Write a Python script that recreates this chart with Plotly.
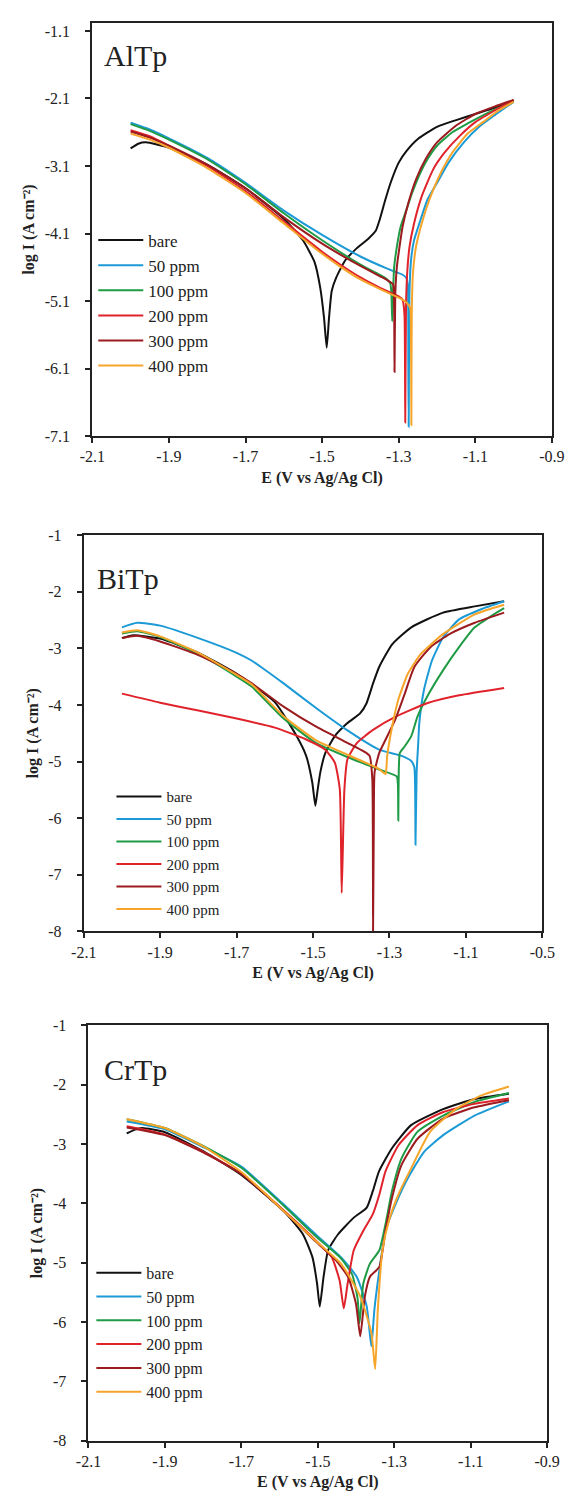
import plotly.graph_objects as go

# ---------------- data: AlTp ----------------
al_bare_E = [-2.0, -1.98, -1.96, -1.9, -1.8, -1.7, -1.6, -1.55, -1.52, -1.505, -1.495, -1.488, -1.482, -1.475, -1.463, -1.44, -1.41, -1.38, -1.36, -1.35, -1.335, -1.32, -1.30, -1.28, -1.25, -1.2, -1.15, -1.1, -1.05, -1.0]
al_bare_I = [-2.84, -2.77, -2.75, -2.83, -3.08, -3.43, -3.88, -4.2, -4.52, -4.9, -5.35, -5.79, -5.35, -4.95, -4.75, -4.5, -4.32, -4.18, -4.06, -3.9, -3.6, -3.33, -3.05, -2.88, -2.70, -2.52, -2.42, -2.33, -2.24, -2.13]
al_50_E = [-2.0, -1.95, -1.9, -1.8, -1.7, -1.6, -1.5, -1.4, -1.33, -1.29, -1.28, -1.276, -1.275, -1.274, -1.272, -1.268, -1.26, -1.245, -1.225, -1.2, -1.17, -1.13, -1.09, -1.05, -1.0]
al_50_I = [-2.46, -2.56, -2.69, -2.98, -3.35, -3.76, -4.12, -4.44, -4.62, -4.71, -4.76, -4.9, -6.0, -6.96, -5.0, -4.5, -4.2, -3.93, -3.6, -3.35, -3.05, -2.75, -2.52, -2.35, -2.15]
al_100_E = [-2.0, -1.95, -1.9, -1.8, -1.7, -1.6, -1.5, -1.4, -1.35, -1.33, -1.322, -1.319, -1.317, -1.315, -1.312, -1.305, -1.295, -1.28, -1.265, -1.245, -1.225, -1.2, -1.16, -1.12, -1.08, -1.04, -1.0]
al_100_I = [-2.48, -2.58, -2.71, -3.0, -3.37, -3.80, -4.2, -4.56, -4.71, -4.78, -4.84, -5.0, -5.40, -5.0, -4.6, -4.3, -4.0, -3.75, -3.5, -3.22, -3.0, -2.8, -2.6, -2.47, -2.35, -2.24, -2.14]
al_200_E = [-2.0, -1.95, -1.9, -1.8, -1.7, -1.6, -1.5, -1.45, -1.4, -1.35, -1.3, -1.29, -1.285, -1.283, -1.281, -1.278, -1.272, -1.26, -1.24, -1.21, -1.18, -1.14, -1.1, -1.05, -1.0]
al_200_I = [-2.57, -2.66, -2.80, -3.10, -3.47, -3.92, -4.37, -4.57, -4.75, -4.90, -5.03, -5.08, -5.3, -6.9, -5.2, -4.7, -4.3, -3.95, -3.55, -3.15, -2.9, -2.65, -2.45, -2.28, -2.12]
al_300_E = [-2.0, -1.95, -1.9, -1.8, -1.7, -1.6, -1.5, -1.45, -1.4, -1.35, -1.33, -1.315, -1.312, -1.311, -1.309, -1.305, -1.298, -1.29, -1.275, -1.255, -1.23, -1.2, -1.15, -1.1, -1.05, -1.0]
al_300_I = [-2.59, -2.68, -2.80, -3.08, -3.43, -3.86, -4.25, -4.42, -4.58, -4.73, -4.79, -4.85, -5.2, -6.15, -5.0, -4.6, -4.3, -4.0, -3.65, -3.3, -3.0, -2.75, -2.5, -2.33, -2.22, -2.12]
al_400_E = [-2.0, -1.95, -1.9, -1.8, -1.7, -1.6, -1.5, -1.45, -1.4, -1.35, -1.3, -1.28, -1.27, -1.268, -1.267, -1.266, -1.263, -1.255, -1.24, -1.22, -1.19, -1.16, -1.12, -1.08, -1.04, -1.0]
al_400_I = [-2.62, -2.71, -2.83, -3.13, -3.50, -3.95, -4.40, -4.60, -4.78, -4.92, -5.05, -5.12, -5.2, -5.6, -6.94, -5.3, -4.7, -4.3, -3.95, -3.6, -3.2, -2.9, -2.62, -2.45, -2.28, -2.15]

# ---------------- data: BiTp ----------------
bi_bare_E = [-2.0, -1.97, -1.9, -1.8, -1.7, -1.6, -1.543, -1.518, -1.502, -1.494, -1.488, -1.481, -1.468, -1.443, -1.41, -1.377, -1.36, -1.343, -1.327, -1.293, -1.243, -1.16, -1.077, -1.0]
bi_bare_I = [-2.82, -2.77, -2.83, -3.08, -3.45, -3.95, -4.55, -4.90, -5.37, -5.78, -5.5, -5.19, -4.85, -4.55, -4.32, -4.15, -3.97, -3.62, -3.33, -2.93, -2.63, -2.37, -2.26, -2.17]
bi_50_E = [-2.0, -1.96, -1.9, -1.8, -1.7, -1.66, -1.577, -1.493, -1.41, -1.327, -1.268, -1.243, -1.235, -1.232, -1.229, -1.225, -1.222, -1.21, -1.189, -1.16, -1.118, -1.06, -1.0]
bi_50_I = [-2.63, -2.55, -2.60, -2.82, -3.08, -3.22, -3.62, -4.05, -4.45, -4.79, -4.90, -4.99, -5.1, -6.47, -5.19, -4.7, -4.32, -3.74, -3.22, -2.81, -2.49, -2.31, -2.17]
bi_100_E = [-2.0, -1.96, -1.9, -1.8, -1.7, -1.66, -1.577, -1.493, -1.41, -1.327, -1.281, -1.278, -1.277, -1.276, -1.273, -1.26, -1.243, -1.227, -1.202, -1.16, -1.118, -1.077, -1.027, -1.0]
bi_100_I = [-2.74, -2.70, -2.80, -3.10, -3.50, -3.68, -4.24, -4.67, -4.92, -5.14, -5.26, -5.4, -6.04, -5.3, -4.85, -4.73, -4.55, -4.21, -3.86, -3.39, -2.98, -2.63, -2.40, -2.29]
bi_200_E = [-2.0, -1.9, -1.8, -1.7, -1.6, -1.518, -1.468, -1.443, -1.43, -1.425, -1.418, -1.41, -1.385, -1.343, -1.285, -1.202, -1.118, -1.0]
bi_200_I = [-3.80, -3.96, -4.10, -4.24, -4.40, -4.61, -4.79, -5.02, -5.49, -7.32, -5.49, -4.96, -4.67, -4.44, -4.21, -3.97, -3.83, -3.70]
bi_300_E = [-2.0, -1.96, -1.9, -1.8, -1.7, -1.66, -1.577, -1.493, -1.41, -1.36, -1.352, -1.345, -1.343, -1.341, -1.339, -1.327, -1.31, -1.285, -1.26, -1.235, -1.193, -1.143, -1.077, -1.0]
bi_300_I = [-2.82, -2.78, -2.88, -3.12, -3.45, -3.62, -4.03, -4.38, -4.67, -4.85, -4.90, -5.3, -7.99, -6.0, -5.19, -4.85, -4.61, -4.26, -3.80, -3.33, -2.98, -2.75, -2.55, -2.37]
bi_400_E = [-2.0, -1.96, -1.9, -1.8, -1.7, -1.66, -1.577, -1.493, -1.41, -1.33, -1.315, -1.31, -1.306, -1.293, -1.277, -1.252, -1.218, -1.16, -1.077, -1.0]
bi_400_I = [-2.72, -2.68, -2.79, -3.08, -3.47, -3.64, -4.20, -4.62, -4.88, -5.12, -5.2, -5.22, -4.9, -4.38, -3.91, -3.45, -3.10, -2.75, -2.40, -2.23]

# ---------------- data: CrTp ----------------
cr_bare_E = [-2.0, -1.98, -1.96, -1.9, -1.8, -1.7, -1.589, -1.539, -1.514, -1.502, -1.495, -1.485, -1.473, -1.447, -1.406, -1.372, -1.356, -1.34, -1.306, -1.256, -1.172, -1.09, -1.0]
cr_bare_I = [-2.82, -2.76, -2.73, -2.80, -3.12, -3.52, -4.13, -4.52, -4.91, -5.35, -5.74, -5.24, -4.79, -4.52, -4.24, -4.07, -3.79, -3.46, -3.07, -2.68, -2.41, -2.24, -2.15]
cr_50_E = [-2.0, -1.9, -1.8, -1.7, -1.589, -1.506, -1.439, -1.398, -1.372, -1.36, -1.352, -1.339, -1.323, -1.297, -1.264, -1.222, -1.172, -1.09, -1.0]
cr_50_I = [-2.62, -2.75, -3.05, -3.38, -4.02, -4.52, -4.91, -5.24, -5.74, -6.41, -5.79, -5.13, -4.46, -4.02, -3.57, -3.13, -2.85, -2.52, -2.28]
cr_100_E = [-2.0, -1.9, -1.8, -1.7, -1.589, -1.506, -1.439, -1.41, -1.396, -1.391, -1.381, -1.364, -1.339, -1.323, -1.306, -1.281, -1.239, -1.172, -1.09, -1.0]
cr_100_I = [-2.58, -2.73, -3.03, -3.40, -4.04, -4.55, -4.93, -5.2, -5.6, -6.02, -5.35, -5.02, -4.79, -4.35, -3.79, -3.24, -2.79, -2.52, -2.29, -2.14]
cr_200_E = [-2.0, -1.9, -1.8, -1.7, -1.589, -1.506, -1.464, -1.443, -1.432, -1.422, -1.406, -1.381, -1.356, -1.339, -1.323, -1.289, -1.239, -1.172, -1.09, -1.0]
cr_200_I = [-2.70, -2.84, -3.13, -3.50, -4.12, -4.62, -4.90, -5.3, -5.77, -5.35, -4.79, -4.46, -4.18, -3.85, -3.46, -3.02, -2.68, -2.46, -2.32, -2.23]
cr_300_E = [-2.0, -1.9, -1.8, -1.7, -1.589, -1.506, -1.45, -1.42, -1.40, -1.389, -1.377, -1.364, -1.339, -1.323, -1.306, -1.281, -1.239, -1.172, -1.09, -1.0]
cr_300_I = [-2.72, -2.85, -3.14, -3.50, -4.13, -4.64, -4.98, -5.25, -5.7, -6.24, -5.57, -5.24, -5.07, -4.46, -3.91, -3.35, -2.91, -2.57, -2.38, -2.26]
cr_400_E = [-2.0, -1.9, -1.8, -1.7, -1.589, -1.506, -1.439, -1.389, -1.36, -1.35, -1.343, -1.331, -1.314, -1.289, -1.256, -1.206, -1.139, -1.072, -1.0]
cr_400_I = [-2.58, -2.73, -3.04, -3.47, -4.13, -4.63, -5.02, -5.57, -6.18, -6.79, -5.79, -4.79, -4.29, -3.85, -3.41, -2.79, -2.41, -2.18, -2.03]

# ---------------- labels / ticks ----------------
series_names = ["bare", "50 ppm", "100 ppm", "200 ppm", "300 ppm", "400 ppm"]
panel_labels = ["AlTp", "BiTp", "CrTp"]
x_tickvals = [-2.1, -1.9, -1.7, -1.5, -1.3, -1.1, -0.9]
x_ticktext_a = ["-2.1", "-1.9", "-1.7", "-1.5", "-1.3", "-1.1", "-0.9"]
x_ticktext_b = ["-2.1", "-1.9", "-1.7", "-1.5", "-1.3", "-1.1", "-0.5"]
y_tickvals_a = [-7.1, -6.1, -5.1, -4.1, -3.1, -2.1, -1.1]
y_ticktext_a = ["-7.1", "-6.1", "-5.1", "-4.1", "-3.1", "-2.1", "-1.1"]
y_tickvals_b = [-8, -7, -6, -5, -4, -3, -2, -1]
y_ticktext_b = ["-8", "-7", "-6", "-5", "-4", "-3", "-2", "-1"]
x_title = "E (V vs Ag/Ag Cl)"
y_title = "log I (A cm⁻²)"

colors = ["#111111", "#1c9ad6", "#1f9b45", "#e0232b", "#9b1b1f", "#f7a52a"]

panels = [
    ([al_bare_E, al_50_E, al_100_E, al_200_E, al_300_E, al_400_E],
     [al_bare_I, al_50_I, al_100_I, al_200_I, al_300_I, al_400_I]),
    ([bi_bare_E, bi_50_E, bi_100_E, bi_200_E, bi_300_E, bi_400_E],
     [bi_bare_I, bi_50_I, bi_100_I, bi_200_I, bi_300_I, bi_400_I]),
    ([cr_bare_E, cr_50_E, cr_100_E, cr_200_E, cr_300_E, cr_400_E],
     [cr_bare_I, cr_50_I, cr_100_I, cr_200_I, cr_300_I, cr_400_I]),
]

W, H = 585, 1511
# plot-area boxes in pixels: (left, right, top, bottom)
boxes = [(83, 564, 15, 433), (74, 554, 533, 934), (79, 559, 1029, 1449)]
yranges = [[-7.1, -0.98], [-8, -1], [-8, -1]]
legend_pos = [(84, 217, 17), (103, 781, 15), (82, 1262, 16)]
label_pos = [(0.02, 0.92), (0.025, 0.89), (0.03, 0.895)]

SERIF = "Liberation Serif"
fig = go.Figure()

for p, (xs, ys) in enumerate(panels):
    xa = "x" if p == 0 else f"x{p+1}"
    ya = "y" if p == 0 else f"y{p+1}"
    lg = "legend" if p == 0 else f"legend{p+1}"
    for k in range(6):
        fig.add_trace(go.Scatter(
            x=xs[k], y=ys[k], mode="lines", name=series_names[k],
            line=dict(color=colors[k], width=2, shape="spline", smoothing=0.5),
            xaxis=xa, yaxis=ya, legend=lg, showlegend=True))

layout = dict(width=W, height=H, margin=dict(l=0, r=0, t=0, b=0),
              paper_bgcolor="white", plot_bgcolor="white",
              font=dict(family=SERIF, color="#222222"))

for p in range(3):
    l, r, t, b = boxes[p]
    sfx = "" if p == 0 else str(p + 1)
    xt = x_ticktext_b if p == 1 else x_ticktext_a
    yv = y_tickvals_a if p == 0 else y_tickvals_b
    yt = y_ticktext_a if p == 0 else y_ticktext_b
    layout["xaxis" + sfx] = dict(
        domain=[l / W, r / W], range=[-2.1, -0.9], anchor="y" + sfx,
        tickvals=x_tickvals, ticktext=xt, ticks="outside", ticklen=5,
        tickwidth=1.5, tickcolor="#222", showgrid=False, zeroline=False,
        showline=True, linecolor="#222", linewidth=2, mirror=True,
        tickfont=dict(family=SERIF, size=16, color="#222"),
        title=dict(text=x_title, font=dict(family=SERIF, size=16, color="#222", weight="bold"), standoff=7))
    layout["yaxis" + sfx] = dict(
        domain=[1 - b / H, 1 - t / H], range=yranges[p], anchor="x" + sfx,
        tickvals=yv, ticktext=yt, ticks="outside", ticklen=5,
        tickwidth=1.5, tickcolor="#222", showgrid=False, zeroline=False,
        showline=True, linecolor="#222", linewidth=2, mirror=True,
        ticklabelstandoff=12,
        tickfont=dict(family=SERIF, size=16, color="#222"),
        title=dict(text=y_title, font=dict(family=SERIF, size=16, color="#222", weight="bold"), standoff=6))
    lx, ly, fs = legend_pos[p]
    layout["legend" if p == 0 else f"legend{p+1}"] = dict(
        x=lx / W, y=1 - ly / H, xanchor="left", yanchor="top",
        bgcolor="rgba(0,0,0,0)", borderwidth=0, itemwidth=45,
        font=dict(family=SERIF, size=fs, color="#222"), tracegroupgap=0)

fig.update_layout(**layout)

annotations = []
for p in range(3):
    sfx = "" if p == 0 else str(p + 1)
    ax, ay = label_pos[p]
    annotations.append(dict(text=panel_labels[p], xref="x" + sfx + " domain", yref="y" + sfx + " domain",
                            x=ax, y=ay, xanchor="left", yanchor="middle", showarrow=False,
                            font=dict(family=SERIF, size=30, color="#222")))
fig.update_layout(annotations=annotations)

fig.write_html("out.html")
